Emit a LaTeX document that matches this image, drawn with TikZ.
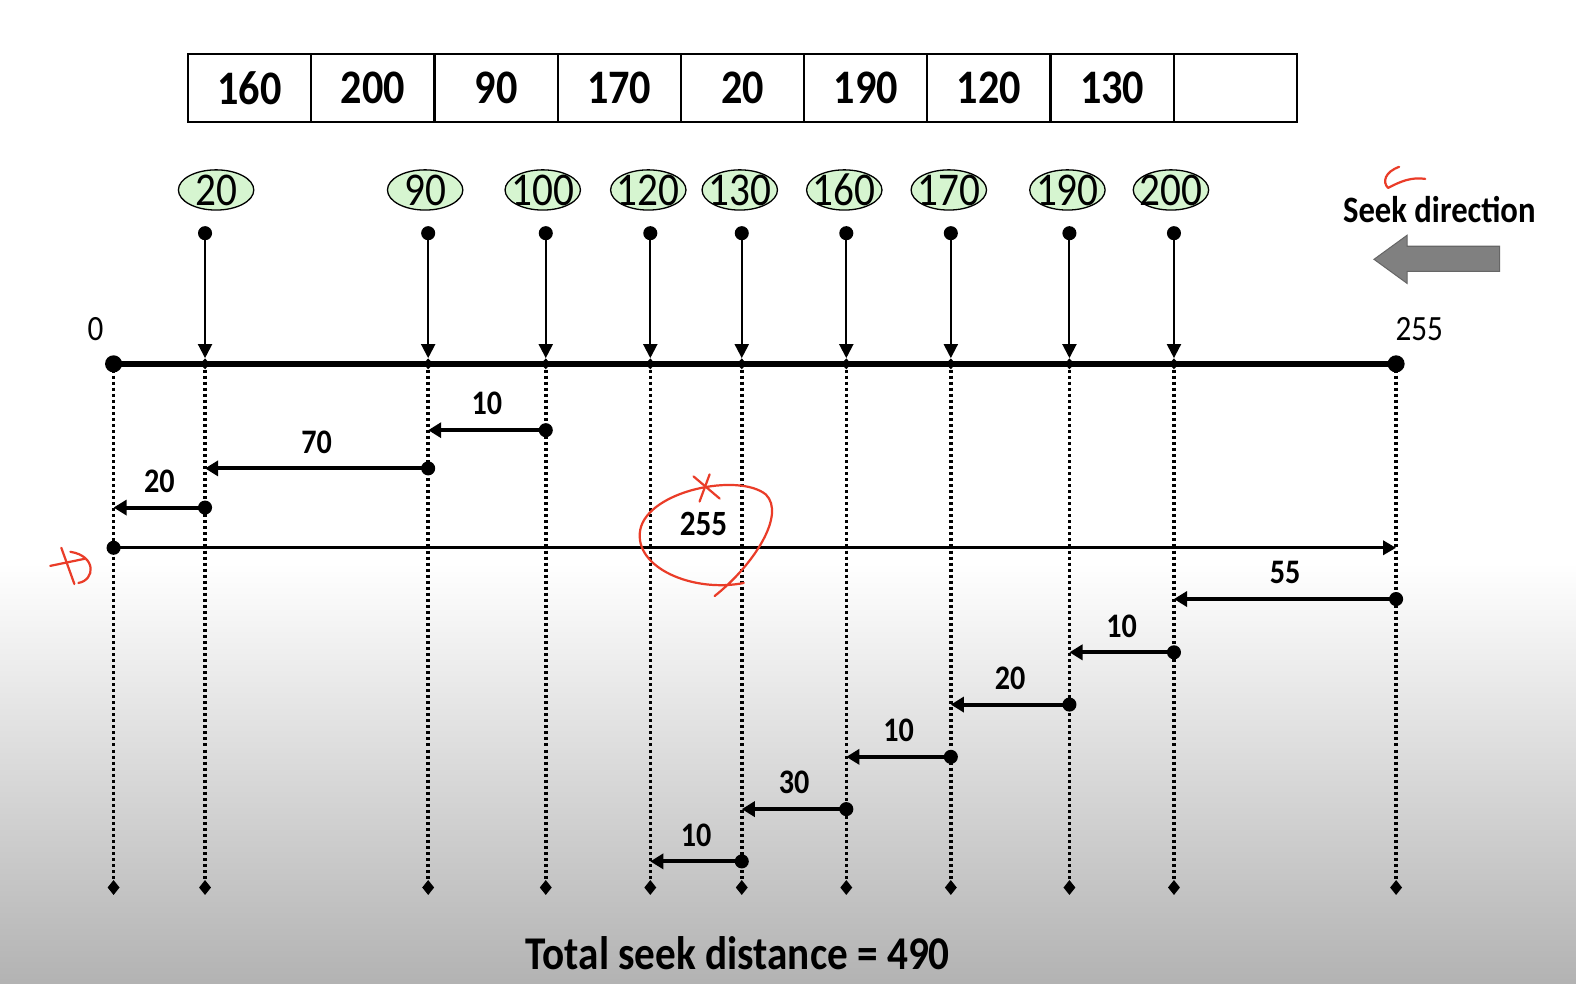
\documentclass[tikz,border=0pt]{standalone}
\usepackage{fontspec}
\setmainfont{Carlito}
\usepackage{tikz}
\usetikzlibrary{shapes.geometric, arrows.meta, positioning}

\definecolor{reqgreen}{RGB}{214,245,208}
\definecolor{penred}{RGB}{234,60,40}
\definecolor{dirgray}{RGB}{128,128,128}
\newcommand{\tall}[1]{\scalebox{1}[1.14]{#1}}

\begin{document}
\begin{tikzpicture}[
    x=1pt, y=-1pt,
    cell/.style={draw, line width=2.2pt, minimum width=122.6pt, minimum height=67pt,
                 inner sep=0pt, font=\fontsize{42}{42}\selectfont\bfseries},
    reqtxt/.style={inner sep=0pt, font=\fontsize{41}{41}\selectfont},
    req/.style={ellipse, draw, line width=1.3pt, fill=reqgreen, minimum width=75pt,
                minimum height=40pt, inner sep=0pt, label={[reqtxt]center:\tall{#1}}},
    dot/.style={circle, fill, inner sep=0pt, minimum size=14pt},
    enddot/.style={circle, fill, inner sep=0pt, minimum size=17pt},
    axtick/.style={diamond, fill, inner sep=0pt, minimum width=10pt, minimum height=11pt},
    foot/.style={diamond, fill, inner sep=0pt, minimum width=12pt, minimum height=15pt},
    feed/.style={-{Triangle[length=14pt, width=14pt]}, line width=2pt},
    axisline/.style={line width=5.5pt},
    track/.style={line width=3.5pt, dash pattern=on 3pt off 3pt},
    seek/.style={-{Triangle[length=13pt, width=15pt]}, line width=4pt},
    longseek/.style={-{Triangle[length=13pt, width=14pt]}, line width=3.4pt},
    dist/.style={font=\fontsize{30}{30}\selectfont\bfseries, inner sep=0pt},
    endlbl/.style={font=\fontsize{31}{31}\selectfont, inner sep=0pt},
    pen/.style={draw=penred, line width=2.2pt, line cap=round, line join=round}
]
\useasboundingbox (0,0) rectangle (1568,979);
\fill[white] (0,0) rectangle (1568,560);
\shade[top color=white, bottom color=black!30] (0,560) rectangle (1568,979);

% request queue
\foreach \v [count=\i] in {160,200,90,170,20,190,120,130,{}}
    \node[cell] (q\i) at ({187+122.6*(\i-0.5)},87.5) {\tall{\v}};

% cylinders, sorted
\node[req=20]  (r20)  at (215,189)  {};
\node[req=90]  (r90)  at (423,189)  {};
\node[req=100] (r100) at (540,189)  {};
\node[req=120] (r120) at (645,189)  {};
\node[req=130] (r130) at (736,189)  {};
\node[req=160] (r160) at (840,189)  {};
\node[req=170] (r170) at (944,189)  {};
\node[req=190] (r190) at (1062,189) {};
\node[req=200] (r200) at (1165,189) {};

% disk axis and dotted tracks
\foreach \n/\x in {0/113, 20/204, 90/426, 100/543, 120/647, 130/738,
                   160/842, 170/946, 190/1064, 200/1168, 255/1389} {
    \node[axtick] (a\n) at (\x,362) {};
    \node[foot]   (b\n) at (\x,883) {};
    \draw[track] (a\n) -- (b\n);
}
\node[enddot] (e0)   at (a0)   {};
\node[enddot] (e255) at (a255) {};
\draw[axisline] (e0.center) -- (e255.center);
\node[endlbl] (l0)   at (95,327)   {\tall{0}};
\node[endlbl] (l255) at (1412,327) {\tall{255}};

% requests dropping onto the axis
\foreach \n in {20,90,100,120,130,160,170,190,200} {
    \node[dot] (d\n) at (a\n |- 0,232) {};
    \draw[feed] (d\n.center) -- (a\n.north);
}

% head movements
\foreach \k/\s/\t/\y/\d in {1/100/90/428/10, 2/90/20/466/70, 3/20/0/505/20,
        5/255/200/596/55, 6/200/190/649/10, 7/190/170/701/20,
        8/170/160/753/10, 9/160/130/805/30, 10/130/120/857/10} {
    \node[dot] (s\k) at (a\s |- 0,\y) {};
    \coordinate (f\k) at (a\t |- 0,\y);
    \draw[seek] (s\k.center) -- node[dist, midway, above=13pt] {\tall{\d}} (f\k);
}
\node[dot] (s4) at (a0 |- 0,545) {};
\coordinate (f4) at (a255 |- 0,545);
\draw[longseek] (s4.center) -- (f4);
\node[dist, font=\fontsize{31}{31}\selectfont\bfseries] (jump) at (700,521) {\tall{255}};

% seek direction
\node[font=\fontsize{32.5}{32.5}\selectfont\bfseries] (dir) at (1432,208)
    {\tall{Seek direction}};
\draw[fill=dirgray, draw=black!60, line width=1pt]
    (1492,245) -- (1400,245) -- (1400,234) -- (1367,258) -- (1400,282)
    -- (1400,270) -- (1492,270) -- cycle;

\node[font=\fontsize{41}{41}\selectfont\bfseries] (total) at (734,948)
    {\tall{Total seek distance = 490}};

% pen marks
\draw[pen] (740,580) .. controls (690,590) and (630,565) .. (637,527)
    .. controls (645,488) and (735,470) .. (762,492)
    .. controls (782,512) and (750,562) .. (711,593);
\draw[pen] (690,474) -- (716,496);
\draw[pen] (706,472) -- (696,499);
\draw[pen] (50,563) -- (84,556);
\draw[pen] (61,545) -- (74,581);
\draw[pen] (70,549) .. controls (96,553) and (95,577) .. (78,580);
\draw[pen] (1392,166) .. controls (1378,171) and (1375,181) .. (1381,187)
    .. controls (1394,180) and (1405,176) .. (1418,178);
\end{tikzpicture}
\end{document}
